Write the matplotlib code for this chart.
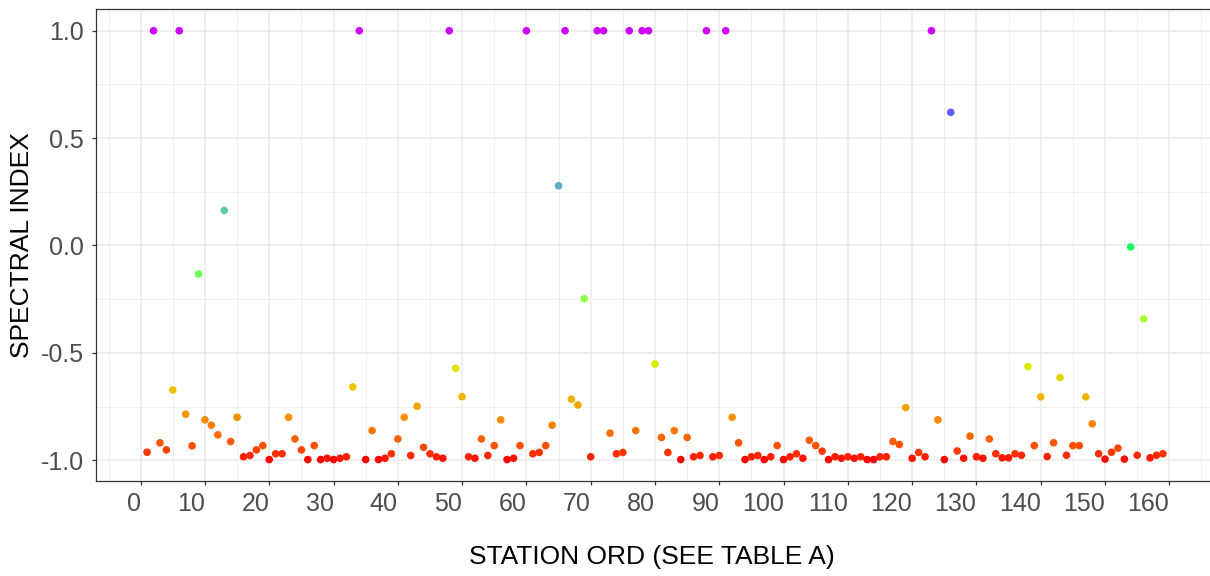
import numpy as np
import matplotlib
matplotlib.use("Agg")
import matplotlib.pyplot as plt
from matplotlib.ticker import MultipleLocator

plt.rcParams['font.family'] = ['Liberation Sans', 'DejaVu Sans']

# ---- data ----
station = np.arange(1, 160)
spectral_index = [
    -0.963, 1.0, -0.919, -0.952, -0.673, 1.0, -0.786, -0.933, -0.133, -0.812,
    -0.837, -0.882, 0.163, -0.913, -0.800, -0.984, -0.978, -0.952, -0.932, -0.997,
    -0.970, -0.970, -0.800, -0.901, -0.952, -0.997, -0.932, -0.997, -0.991, -0.997,
    -0.991, -0.984, -0.659, 1.0, -0.997, -0.862, -0.997, -0.991, -0.970, -0.901,
    -0.800, -0.978, -0.749, -0.940, -0.970, -0.984, -0.991, 1.0, -0.572, -0.704,
    -0.984, -0.991, -0.901, -0.978, -0.932, -0.812, -0.997, -0.991, -0.932, 1.0,
    -0.970, -0.964, -0.932, -0.837, 0.278, 1.0, -0.716, -0.743, -0.248, -0.984,
    1.0, 1.0, -0.874, -0.970, -0.964, 1.0, -0.862, 1.0, 1.0, -0.552,
    -0.894, -0.964, -0.862, -0.997, -0.894, -0.984, -0.978, 1.0, -0.984, -0.978,
    1.0, -0.800, -0.919, -0.997, -0.984, -0.978, -0.997, -0.984, -0.932, -0.997,
    -0.984, -0.970, -0.991, -0.907, -0.932, -0.958, -0.997, -0.984, -0.991, -0.984,
    -0.991, -0.984, -0.997, -0.997, -0.984, -0.984, -0.913, -0.927, -0.755, -0.991,
    -0.964, -0.984, 1.0, -0.812, -0.997, 0.620, -0.957, -0.991, -0.888, -0.984,
    -0.991, -0.901, -0.970, -0.989, -0.989, -0.970, -0.977, -0.564, -0.932, -0.705,
    -0.983, -0.919, -0.615, -0.977, -0.932, -0.932, -0.705, -0.831, -0.970, -0.995,
    -0.963, -0.944, -0.995, -0.007, -0.977, -0.342, -0.989, -0.977, -0.970,
]
palette_stops = ["#FF0000", "#CCFF00", "#00FF66", "#0066FF", "#CC00FF"]
x_ticks = list(range(0, 161, 10))
y_ticks = [-1.0, -0.5, 0.0, 0.5, 1.0]
y_tick_labels = ["-1.0", "-0.5", "0.0", "0.5", "1.0"]
x_title = "STATION ORD (SEE TABLE A)"
y_title = "SPECTRAL INDEX"

# ---- colour scale: gradient through stops, interpolated in CIE Lab ----
WHITE = np.array([0.95047, 1.0, 1.08883])
M = np.array([[0.4124564, 0.3575761, 0.1804375],
              [0.2126729, 0.7151522, 0.0721750],
              [0.0193339, 0.1191920, 0.9503041]])
Minv = np.linalg.inv(M)
D = 6 / 29


def hex_to_rgb(h):
    h = h.lstrip('#')
    return np.array([int(h[i:i + 2], 16) / 255 for i in (0, 2, 4)])


def rgb_to_lab(rgb):
    lin = np.where(rgb <= 0.04045, rgb / 12.92, ((rgb + 0.055) / 1.055) ** 2.4)
    xyz = M @ lin / WHITE
    f = np.where(xyz > D ** 3, np.cbrt(xyz), xyz / (3 * D * D) + 4 / 29)
    return np.array([116 * f[1] - 16, 500 * (f[0] - f[1]), 200 * (f[1] - f[2])])


def lab_to_rgb(lab):
    fy = (lab[0] + 16) / 116
    fx = fy + lab[1] / 500
    fz = fy - lab[2] / 200
    f = np.array([fx, fy, fz])
    xyz = np.where(f > D, f ** 3, 3 * D * D * (f - 4 / 29)) * WHITE
    lin = Minv @ xyz
    lin = np.clip(lin, 0, 1)
    rgb = np.where(lin <= 0.0031308, 12.92 * lin, 1.055 * lin ** (1 / 2.4) - 0.055)
    return np.clip(rgb, 0, 1)


stop_labs = [rgb_to_lab(hex_to_rgb(c)) for c in palette_stops]
vals = np.array(spectral_index)
vmin, vmax = vals.min(), vals.max()


def colour_for(v):
    t = (v - vmin) / (vmax - vmin)
    pos = t * (len(stop_labs) - 1)
    i = min(int(np.floor(pos)), len(stop_labs) - 2)
    frac = pos - i
    lab = stop_labs[i] * (1 - frac) + stop_labs[i + 1] * frac
    return lab_to_rgb(lab)


colours = [colour_for(v) for v in vals]

# ---- figure ----
W, H = 1210, 576
fig = plt.figure(figsize=(W / 100, H / 100), dpi=100)
left, right, top, bottom = 96.3, 1213.7, 9.3, 481.0
ax = fig.add_axes([left / W, (H - bottom) / H, (right - left) / W, (bottom - top) / H])

ax.scatter(station, vals, c=colours, s=30, linewidths=0, zorder=3)

xr = station.max() - station.min()
ax.set_xlim(station.min() - 0.05 * xr, station.max() + 0.05 * xr)
yr = vmax - vmin
ax.set_ylim(vmin - 0.05 * yr, vmax + 0.05 * yr)

ax.set_xticks(x_ticks)
ax.set_xticklabels([str(t) for t in x_ticks], ha='right')
ax.xaxis.set_minor_locator(MultipleLocator(5))
ax.set_yticks(y_ticks)
ax.set_yticklabels(y_tick_labels)
ax.yaxis.set_minor_locator(MultipleLocator(0.25))

ax.grid(which='major', color='#EBEBEB', linewidth=1.1, zorder=0)
ax.grid(which='minor', color='#EBEBEB', linewidth=0.55, zorder=0)
ax.set_axisbelow(True)

for sp in ax.spines.values():
    sp.set_color('#333333')
    sp.set_linewidth(0.9)

ax.tick_params(which='major', length=3, width=0.9, color='#333333',
               labelsize=18, labelcolor='#4D4D4D', pad=6)
ax.tick_params(which='minor', length=0)
ax.tick_params(axis='x', pad=5)

fig.text(652 / W, 1 - 557 / H, x_title, fontsize=19, color='black',
         ha='center', va='center')
fig.text(22 / W, 1 - 245 / H, y_title, fontsize=19, color='black',
         ha='center', va='center', rotation=90)

fig.savefig("out.png", dpi=100)
